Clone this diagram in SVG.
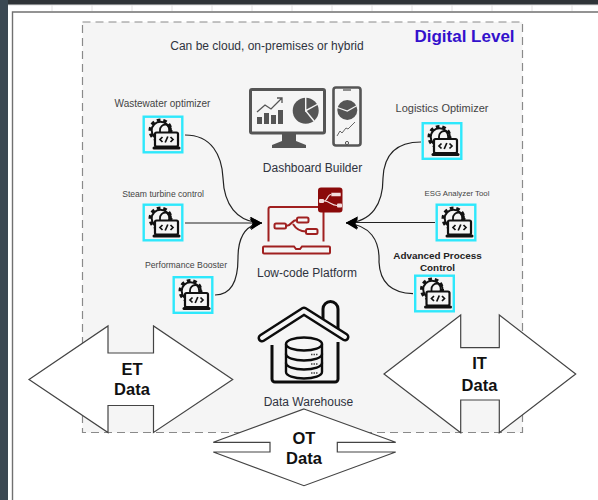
<svg xmlns="http://www.w3.org/2000/svg" width="598" height="500" viewBox="0 0 598 500">
<style>
text{font-family:"Liberation Sans",Arial,sans-serif;fill:#444;text-anchor:middle}
.cap{font-size:12px;fill:#2f3340}
.big{font-size:16.5px;font-weight:700;fill:#111}
.block{fill:#fff;stroke:#444;stroke-width:1.2}
.edge{fill:none;stroke:#222;stroke-width:1.2;marker-end:url(#arr)}
.lc{fill:none;stroke:#a02020;stroke-width:2}
.dk{fill:#555}
.roof{fill:none;stroke:#0c0c0c;stroke-width:9;stroke-linecap:round;stroke-linejoin:round}
.roofin{fill:none;stroke:#f5f5f5;stroke-width:4;stroke-linecap:round;stroke-linejoin:round}
.hs{fill:none;stroke:#0c0c0c;stroke-width:2.4;stroke-linejoin:round;stroke-linecap:round}
</style>
<defs>
<marker id="arr" markerUnits="userSpaceOnUse" markerWidth="14" markerHeight="14" refX="12" refY="6" orient="auto">
<path d="M0 0L12 6L0 12L3 6Z" fill="#000"/>
</marker>
<g id="tool">
<rect x="1.200" y="1.200" width="38.600" height="35.600" fill="#f5f5f5" stroke="#2ee8fc" stroke-width="2.400"/>
<circle cx="18" cy="15" r="10.500" fill="none" stroke="#111" stroke-width="3" stroke-dasharray="3.600 2.900"/>
<circle cx="18" cy="15" r="8.800" fill="#f5f5f5" stroke="#111" stroke-width="2"/>
<path d="M17.500 18v-3.500a5.500 5.500 0 0 1 11 0v3.500" fill="none" stroke="#111" stroke-width="1.800"/>
<rect x="12.500" y="17" width="23" height="14" rx="1.500" fill="#f5f5f5" stroke="#111" stroke-width="2.200"/>
<rect x="10" y="31" width="28" height="3" rx="1.500" fill="#111"/>
<path d="M20 21.500l-2.500 2.500l2.500 2.500M28 21.500l2.500 2.500l-2.500 2.500M25.300 21l-2.600 6" fill="none" stroke="#111" stroke-width="1.700"/>
</g>
</defs>

<rect width="598" height="500" fill="#fff"/>
<g id="frame">
<rect width="598" height="5" fill="#2f3438"/>
<rect width="8" height="500" fill="#3b4852"/>
<path d="M8 5H598" stroke="#ddd" fill="none"/>
<path d="M52 5v6M92 5v6M132 5v6M172 5v6M212 5v6M252 5v6M292 5v6M332 5v6M372 5v6M412 5v6M452 5v6M492 5v6M532 5v6M572 5v6" stroke="#e2e2e2" fill="none"/>
<path d="M12.500 500V12H598" fill="none" stroke="#707070" stroke-width="1.400"/>
</g>

<rect id="panel" x="82.500" y="22" width="440" height="410.500" fill="#f5f5f5" stroke="#8a8a8a" stroke-width="1.200" stroke-dasharray="8 5"/>
<text x="267" y="50" font-size="12" style="fill:#2f3340">Can be cloud, on-premises or hybrid</text>
<text x="464.500" y="42" font-size="17" font-weight="700" style="fill:#3311cc">Digital Level</text>

<g id="connectors">
<path class="edge" d="M185 135C212 135 222 156 223 178C224 204 236 222 262 223"/>
<path class="edge" d="M185 223H262"/>
<path class="edge" d="M215 295C232 295 238 280 238 258C238 240 243 225 262 223"/>
<path class="edge" d="M421 142C396 142 384 155 383 178C383 204 372 222 346 223"/>
<path class="edge" d="M435 222.500H346"/>
<path class="edge" d="M413 293.700C394 293 380 284 379 262C380 240 370 225 346 223"/>
</g>

<g id="wastewater"><text x="162.500" y="107" font-size="10">Wastewater optimizer</text><use href="#tool" x="142.500" y="115.500"/></g>
<g id="steam"><text x="163" y="197" font-size="8.600">Steam turbine control</text><use href="#tool" x="142.500" y="203.500"/></g>
<g id="performance"><text x="186" y="268" font-size="8.700">Performance Booster</text><use href="#tool" x="172.500" y="276"/></g>
<g id="logistics"><text x="442" y="112" font-size="11">Logistics Optimizer</text><use href="#tool" x="421.500" y="122"/></g>
<g id="esg"><text x="457" y="196" font-size="7.800">ESG Analyzer Tool</text><use href="#tool" x="435.500" y="203.500"/></g>
<g id="apc"><text x="437.500" y="259" font-size="9.900" font-weight="700" style="fill:#222">Advanced Process</text><text x="437.500" y="271" font-size="9.900" font-weight="700" style="fill:#222">Control</text><use href="#tool" x="414" y="274.500"/></g>

<g id="dashboard">
<rect x="250.500" y="89.500" width="74" height="43.500" rx="1.500" fill="none" stroke="#555" stroke-width="3"/>
<path class="dk" d="M282 134h14v7l10 4v3h-34v-3l10-4z"/>
<path class="dk" d="M257 124v-7h5v7zM264 124v-11h5v11zM271 124v-9h5v9zM278 124v-14h5v14z"/>
<path d="M257 112l8-7l6 4l11-11M277 98h5v5" fill="none" stroke="#555" stroke-width="1.300"/>
<circle class="dk" cx="305.700" cy="110.700" r="13"/>
<path d="M305.700 96V110.700L318 104M305.700 110.700L314 121" fill="none" stroke="#f5f5f5" stroke-width="1.400"/>
<rect x="333.500" y="87.500" width="27" height="58" rx="2.500" fill="none" stroke="#555" stroke-width="2.600"/>
<path d="M343 90h8" stroke="#555" stroke-width="1.300" fill="none"/>
<circle cx="347" cy="143" r="1.600" fill="none" stroke="#555"/>
<circle class="dk" cx="347.300" cy="110" r="10"/>
<path d="M336 107L347.300 111L358 105" fill="none" stroke="#f5f5f5" stroke-width="1.200"/>
<path d="M337 136l3-5l2 2l4-5l2 1l7-7" fill="none" stroke="#666" stroke-width="1"/>
<text class="cap" x="312.500" y="172" style="fill:#2f3340">Dashboard Builder</text>
</g>

<g id="lowcode">
<path d="M268.500 241.500V209a2 2 0 0 1 2-2H323.500V241.500" fill="none" stroke="#a02020" stroke-width="2"/>
<path d="M264 246.500H294l2 2.500h4l2-2.500H329a1 1 0 0 1 1 1v5a1 1 0 0 1-1 1H264a1 1 0 0 1-1-1v-5a1 1 0 0 1 1-1z" fill="#f5f5f5" stroke="#a02020" stroke-width="2"/>
<rect class="lc" x="274.500" y="223.500" width="11.500" height="5" rx="1.500"/>
<rect class="lc" x="297" y="217.500" width="11.500" height="5" rx="1.500"/>
<rect class="lc" x="306" y="229" width="11.500" height="5" rx="1.500"/>
<path class="lc" d="M286 226C292 226 291 220 297 220M293 224C296 229 300 231.500 306 231.500"/>
<rect x="318" y="187.500" width="24.500" height="25" rx="3" fill="#8b0a0a"/>
<rect x="331" y="192.500" width="10" height="4" rx="1" fill="#f3dede" stroke="#8b0a0a" stroke-width=".5"/>
<rect x="319" y="199" width="5" height="4" rx="1" fill="#f3dede"/>
<rect x="337" y="203.500" width="5" height="4" rx="1" fill="#f3dede"/>
<path d="M324 201C328 201 327 194.500 331 194.500M324 201C330 201 331 205.500 337 205.500" fill="none" stroke="#f3dede" stroke-width="1.200"/>
<text class="cap" x="307" y="277" style="fill:#2f3340">Low-code Platform</text>
</g>

<g id="warehouse">
<path d="M323 322V309a7.500 7.500 0 0 1 15 0V331" fill="none" stroke="#0c0c0c" stroke-width="3"/>
<path class="roof" d="M262 338L304 311L345 337"/>
<path class="roofin" d="M262 338L304 311L345 337"/>
<path d="M272 345V379a3 3 0 0 0 3 3H335a3 3 0 0 0 3-3V342" fill="none" stroke="#0c0c0c" stroke-width="3"/>
<path class="hs" d="M286 344a18 6.500 0 0 1 36 0V372a18 6.500 0 0 1-36 0Z"/>
<path class="hs" d="M286 344a18 6.500 0 0 0 36 0M286 354a18 6.500 0 0 0 36 0M286 363a18 6.500 0 0 0 36 0"/>
<path d="M311 354.500h7M311 364h7M311 373h7" stroke="#444" stroke-width="1.600" stroke-dasharray="1.500 1" fill="none"/>
<text class="cap" x="308.500" y="406" style="fill:#2f3340">Data Warehouse</text>
</g>

<g id="et-data">
<polygon class="block" points="29,379.500 108,326 108,353 153.500,353 153.500,326 232.700,379.500 153.500,432.500 153.500,405.500 108,405.500 108,432.500"/>
<text class="big" x="132" y="375" style="fill:#111">ET</text><text class="big" x="132" y="394.500" style="fill:#111">Data</text>
</g>
<g id="it-data">
<polygon class="block" points="384,374 460.700,315 460.700,347.700 499.300,347.700 499.300,315 575.700,374 499.300,432.700 499.300,400 460.700,400 460.700,432.700"/>
<text class="big" x="479.500" y="369" style="fill:#111">IT</text><text class="big" x="479.500" y="391" style="fill:#111">Data</text>
</g>
<g id="ot-data">
<polygon class="block" points="304,409 395.700,442.300 337.300,442.300 337.300,452 395.700,452 304,485.700 213.300,452 270,452 270,442.300 213.300,442.300"/>
<text class="big" x="304" y="444" style="fill:#111">OT</text><text class="big" x="304" y="464" style="fill:#111">Data</text>
</g>
</svg>
